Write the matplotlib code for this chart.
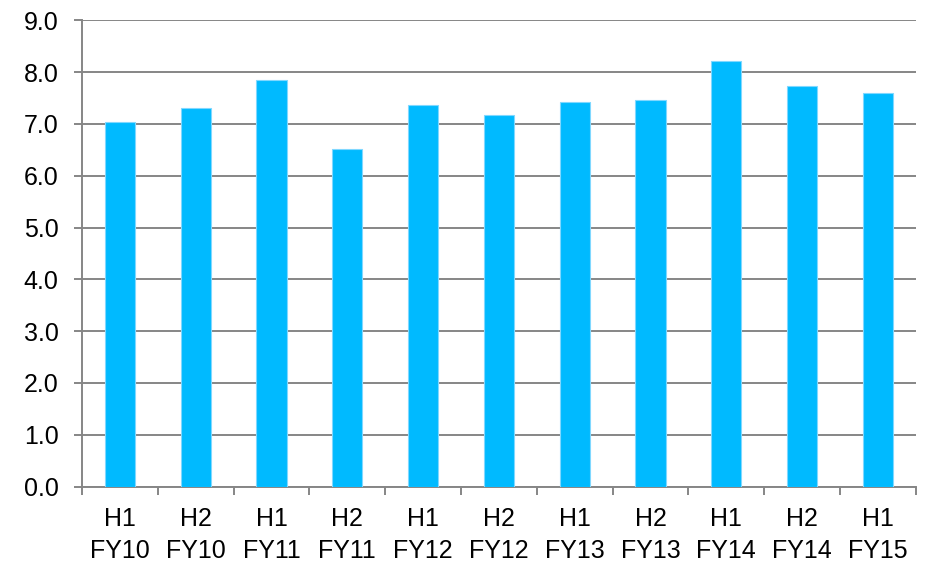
import numpy as np
import matplotlib.pyplot as plt

plt.rcParams['font.family'] = ['Liberation Sans', 'DejaVu Sans']

# semestres et valeurs
periods = ["H1\nFY10", "H2\nFY10", "H1\nFY11", "H2\nFY11", "H1\nFY12", "H2\nFY12",
           "H1\nFY13", "H2\nFY13", "H1\nFY14", "H2\nFY14", "H1\nFY15"]
values = [7.04, 7.30, 7.85, 6.52, 7.36, 7.17, 7.43, 7.47, 8.22, 7.73, 7.59]
yticks = np.arange(0, 9.5, 1.0)

GRID = "#868686"
FS = 18

fig = plt.figure(figsize=(9.26, 5.62), dpi=100)
ax = fig.add_axes([0.0886, 0.1343, 0.9004, 0.8296])

x = np.arange(len(values))
ax.bar(x, values, width=0.4, color="#00BAFF", edgecolor="#80D8FF", linewidth=0.8, zorder=3)

ax.set_xlim(-0.5, len(values) - 0.5)
ax.set_ylim(0, 9)
ax.set_yticks(yticks)
ax.set_yticklabels([f"{v:.1f}" for v in yticks], fontsize=FS)
ax.yaxis.grid(True, color=GRID, linewidth=1.4, zorder=0)
ax.tick_params(axis="y", length=5.8, width=1.4, color=GRID, pad=11)

# graduations aux limites des categories, libelles au centre
ax.set_xticks(np.arange(-0.5, len(values), 1.0))
ax.set_xticklabels([])
ax.tick_params(axis="x", which="major", length=5.5, width=1.4, color=GRID)
ax.set_xticks(x, minor=True)
ax.set_xticklabels(periods, minor=True, fontsize=FS, linespacing=1.4)
ax.tick_params(axis="x", which="minor", length=0, pad=15)

for side in ["top", "right"]:
    ax.spines[side].set_visible(False)
for side in ["left", "bottom"]:
    ax.spines[side].set_color(GRID)
    ax.spines[side].set_linewidth(1.4)

fig.savefig("out.png", dpi=100)
